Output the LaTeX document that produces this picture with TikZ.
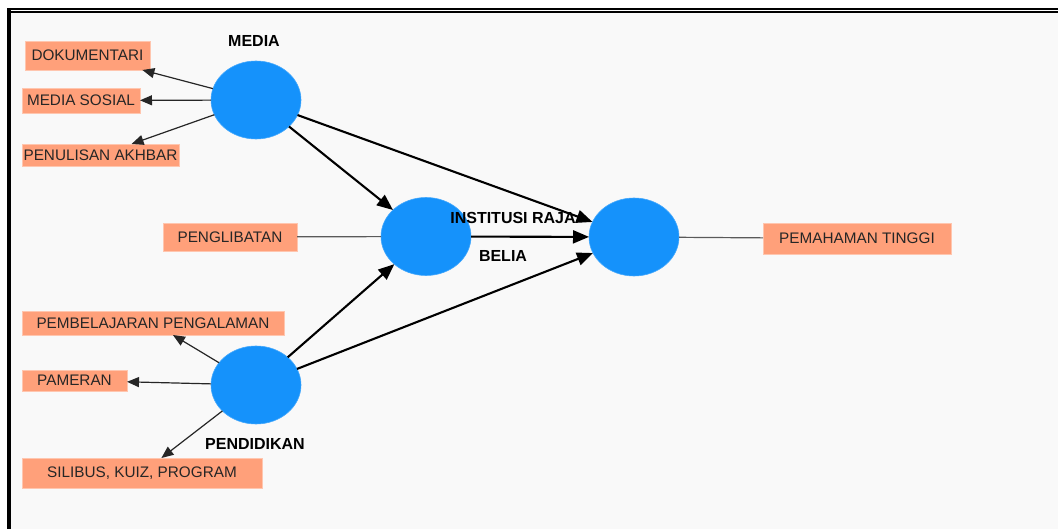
\documentclass[tikz,border=0pt]{standalone}
\usepackage{fontspec}
\setmainfont{Liberation Sans}
\usetikzlibrary{shapes.geometric,arrows.meta}
\definecolor{bg}{HTML}{F9F9F9}
\definecolor{blueell}{HTML}{1592FB}
\definecolor{salmonbox}{HTML}{FFA07A}
\definecolor{thinline}{HTML}{5A5A5A}
\tikzset{
  ell/.style={ellipse, fill=blueell, draw=blueell!80!white, line width=0.6pt, minimum width=90pt, minimum height=78pt, inner sep=0pt, outer sep=0pt},
  boxn/.style={rectangle, fill=salmonbox, draw=salmonbox!60!white, line width=0.6pt, inner sep=0pt, outer sep=0pt, text=black!85, font=\fontsize{15.3}{18}\selectfont},
  lbl/.style={font=\fontsize{16}{19}\selectfont\bfseries, text=black, inner sep=0pt},
  thinarr/.style={draw=black!85, line width=1.2pt, -{Triangle[length=12pt,width=10pt]}},
  thickarr/.style={draw=black, line width=2.1pt, -{Triangle[length=16pt,width=13pt]}},
  plain/.style={draw=thinline, line width=1.2pt}
}
\begin{document}
\begin{tikzpicture}[x=1pt,y=-1pt]
\useasboundingbox (0,0) rectangle (1058,529);
\fill[white] (0,0) rectangle (1058,529);
\fill[bg] (11,13) rectangle (1058,529);
\fill[black] (7,8) rectangle (1058,10);
\fill[black] (11,11) rectangle (1058,13);
\fill[black] (7,8) rectangle (11,529);

% ellipses
\node[ell] (media) at (256,100) {};
\node[ell] (belia) at (426,236.5) {};
\node[ell] (inst) at (634,237) {};
\node[ell] (pend) at (256,385) {};

% labels
\node[lbl] (lmedia) at (254,41) {MEDIA};
\node[lbl] (linst) at (513,218) {INSTITUSI RAJA};
\node[lbl] (lbelia) at (503,256) {BELIA};
\node[lbl] (lpend) at (255,444) {PENDIDIKAN};

% boxes
\node[boxn, minimum width=125pt, minimum height=29pt] (doku) at (87.5,55.5) {DOKUMENTARI};
\node[boxn, minimum width=118pt, minimum height=25pt] (msos) at (81,100.5) {MEDIA SOSIAL};
\node[boxn, minimum width=157pt, minimum height=22pt] (akh) at (100.5,155) {PENULISAN AKHBAR};
\node[boxn, minimum width=134pt, minimum height=28pt] (peng) at (230,237) {PENGLIBATAN};
\node[boxn, minimum width=188pt, minimum height=31pt] (pema) at (857,238.5) {PEMAHAMAN TINGGI};
\node[boxn, minimum width=262pt, minimum height=24pt] (pemb) at (153,323) {PEMBELAJARAN PENGALAMAN};
\node[boxn, minimum width=105pt, minimum height=21pt] (pame) at (74.5,380.5) {PAMERAN};
\node[boxn, minimum width=240pt, minimum height=30pt] (sili) at (142,473) {SILIBUS, KUIZ, PROGRAM};

% thin arrows
\draw[thinarr] (media) -- (doku);
\draw[thinarr] (media) -- (msos);
\draw[thinarr] (media) -- (akh);
\draw[thinarr] (pend) -- (pemb);
\draw[thinarr] (pend) -- (pame);
\draw[thinarr] (pend) -- (sili);

% plain lines
\draw[plain] (peng) -- (belia);
\draw[plain] (inst) -- (pema);

% thick arrows
\draw[thickarr] (media) -- (belia);
\draw[thickarr] (media) -- (inst);
\draw[thickarr] (belia) -- (inst);
\draw[thickarr] (pend) -- (belia);
\draw[thickarr] (pend) -- (inst);
\end{tikzpicture}
\end{document}
